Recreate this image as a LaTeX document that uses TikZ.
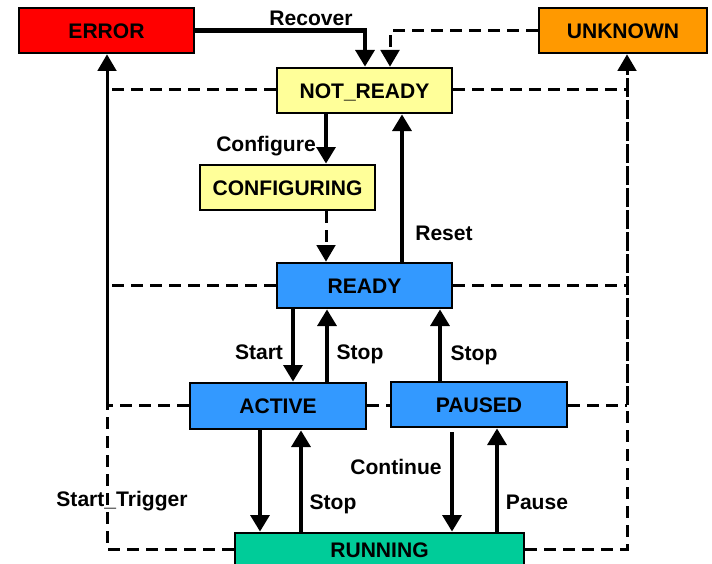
\documentclass[tikz,border=0pt]{standalone}
\usepackage{fontspec}
\setmainfont{Liberation Sans}
\usetikzlibrary{arrows.meta}
\definecolor{errred}{RGB}{255,0,0}
\definecolor{unkorange}{RGB}{255,153,0}
\definecolor{nryellow}{RGB}{255,255,153}
\definecolor{stblue}{RGB}{51,153,255}
\definecolor{rungreen}{RGB}{0,204,153}
\begin{document}
\begin{tikzpicture}[x=0.75pt,y=-0.75pt,
  txt/.style={inner sep=0pt, text height=11.3pt, text depth=0pt, font=\fontsize{15.8}{18}\selectfont\bfseries},
  state/.style={txt, draw=black, line width=2pt, minimum width=131.25pt, minimum height=33.75pt},
  lbl/.style={txt},
  tip/.style={-{Triangle[width=14pt,length=12.5pt]}},
  trans/.style={line width=3.2pt, tip},
  solidline/.style={line width=2.25pt},
  dline/.style={line width=2.25pt, dash pattern=on 9pt off 5.25pt},
  darrow/.style={dline, tip},
]
\useasboundingbox (0,0) rectangle (712,563);
\clip (0,0) rectangle (712,563);

% x positions
\coordinate (xL) at (107,0);
\coordinate (xR) at (627,0);
\coordinate (xrec) at (365,0);
\coordinate (xunk) at (390,0);
\coordinate (xa) at (326,0);
\coordinate (xr) at (402,0);
\coordinate (xs) at (293,0);
\coordinate (xst) at (327,0);
\coordinate (xps) at (440,0);
\coordinate (xad) at (260,0);
\coordinate (xau) at (301,0);
\coordinate (xc) at (452,0);
\coordinate (xp) at (497,0);

% states
\node[state, fill=errred] (err) at (106.5,30.5) {ERROR};
\node[state, fill=unkorange, minimum width=126pt] (unk) at (623,30.5) {UNKNOWN};
\node[state, fill=nryellow] (nr) at (364.5,90.5) {NOT\_READY};
\node[state, fill=nryellow] (cfg) at (287.5,187.5) {CONFIGURING};
\node[state, fill=stblue] (rdy) at (364.5,285.5) {READY};
\node[state, fill=stblue, minimum width=132pt, minimum height=34.5pt] (act) at (278,406) {ACTIVE};
\node[state, fill=stblue, minimum width=132pt] (pau) at (479,404.5) {PAUSED};
\node[state, fill=rungreen, minimum width=216.75pt, minimum height=25.5pt] (run) at (379.5,550) {RUNNING};

% corner coordinates of the side lines
\coordinate (L90) at (107,90);
\coordinate (L285) at (107,285);
\coordinate (L405) at (107,405);
\coordinate (L549) at (107,549);
\coordinate (R90) at (627,90);
\coordinate (R285) at (627,285);
\coordinate (R405) at (627,405);
\coordinate (R549) at (627,549);

% dashed level lines
\draw[dline] (nr.west |- L90) -- (L90);
\draw[dline] (nr.east |- R90) -- (R90);
\draw[dline] (rdy.west |- L285) -- (L285);
\draw[dline] (rdy.east |- R285) -- (R285);
\draw[dline] (act.west |- L405) -- (L405);
\draw[dline] (act.east |- L405) -- (pau.west |- L405);
\draw[dline] (pau.east |- R405) -- (R405);
\draw[dline] (run.west |- L549) -- (L549) -- (L405);
\draw[dline] (run.east |- R549) -- (R549) -- (R405);
\draw[solidline, tip] (L405) -- (err.south -| xL);
\draw[line width=2.25pt, dash pattern=on 14pt off 2.5pt, tip] (R405) -- (unk.south -| xR);

% transitions
\draw[trans] (err.east) -| (nr.north -| xrec);
\draw[darrow] (unk.west) -| (nr.north -| xunk);
\draw[trans] (nr.south -| xa) -- (cfg.north -| xa);
\draw[darrow] (cfg.south -| xa) -- (rdy.north -| xa);
\draw[trans] (rdy.north -| xr) -- (nr.south -| xr);
\draw[trans] (rdy.south -| xs) -- (act.north -| xs);
\draw[trans] (act.north -| xst) -- (rdy.south -| xst);
\draw[trans] (pau.north -| xps) -- (rdy.south -| xps);
\draw[trans] (act.south -| xad) -- (run.north -| xad);
\draw[trans] (run.north -| xau) -- (act.south -| xau);
\draw[trans] ([yshift=-3pt]pau.south -| xc) -- (run.north -| xc);
\draw[trans] (run.north -| xp) -- (pau.south -| xp);

% labels
\node[lbl] (lrec) at (311,18) {Recover};
\node[lbl] (lcfg) at (266,144) {Configure};
\node[lbl] (lrst) at (444,233) {Reset};
\node[lbl] (lsta) at (259,352) {Start};
\node[lbl] (lst1) at (360,352) {Stop};
\node[lbl] (lst2) at (474,353) {Stop};
\node[lbl] (lstt) at (122,499) {Start\_Trigger};
\node[lbl] (lst3) at (333,502) {Stop};
\node[lbl] (lcon) at (396,467) {Continue};
\node[lbl] (lpau) at (537,502) {Pause};
\end{tikzpicture}
\end{document}
